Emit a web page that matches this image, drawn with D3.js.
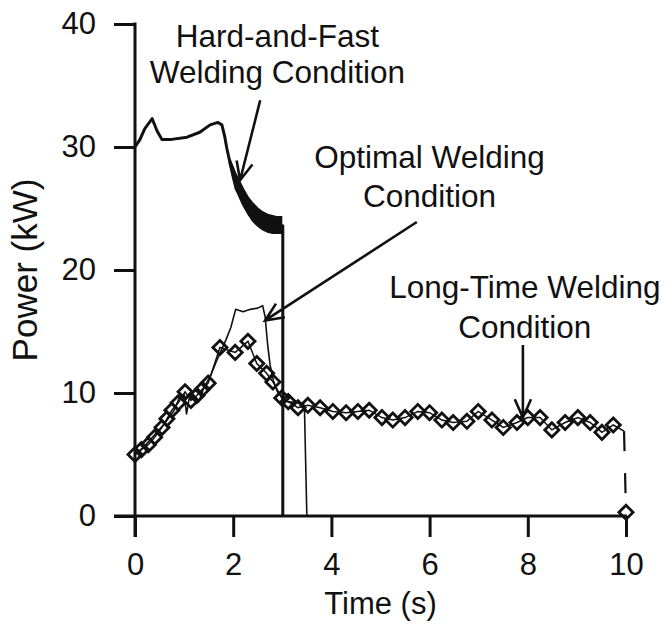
<!DOCTYPE html>
<html>
<head>
<meta charset="utf-8">
<script src="https://cdn.jsdelivr.net/npm/d3@7"></script>
<style>
  body { margin: 0; background: #fff; }
  text { font-family: Arial, "Liberation Sans", sans-serif; fill: #111; }
</style>
</head>
<body>
<script>
// Hard-and-Fast welding condition (thick line)
const hardT = [0, 0.1, 0.2, 0.35, 0.45, 0.55, 0.71, 1.06, 1.32, 1.53, 1.69, 1.77, 1.83, 1.87, 1.93, 2.0, 2.2, 2.5, 2.98, 3.01, 3.01];
const hardP = [30.0, 30.6, 31.5, 32.3, 31.3, 30.6, 30.6, 30.8, 31.2, 31.8, 32.0, 31.8, 30.8, 29.9, 28.8, 27.8, 25.9, 24.3, 23.6, 23.6, 0];
// oscillating band of the hard-and-fast curve (upper / lower envelope)
const bandT = [1.93, 2.0, 2.05, 2.1, 2.2, 2.3, 2.4, 2.5, 2.6, 2.7, 2.8, 2.9, 2.98];
const bandHi = [29.0, 28.3, 27.8, 27.4, 26.6, 25.9, 25.4, 25.0, 24.7, 24.5, 24.4, 24.3, 24.3];
const bandLo = [28.6, 27.4, 26.6, 26.2, 25.3, 24.6, 24.0, 23.6, 23.3, 23.1, 23.0, 23.0, 23.0];

// Optimal welding condition (thin line)
const optT = [0, 0.2, 0.4, 0.6, 0.8, 0.9, 1.0, 1.05, 1.1, 1.2, 1.3, 1.4, 1.55, 1.65, 1.75, 1.85, 1.95, 2.05, 2.2, 2.35, 2.5, 2.6, 2.65, 2.7, 2.75, 2.82, 2.9, 3.0, 3.1, 3.3, 3.45, 3.5];
const optP = [5.0, 5.7, 6.6, 7.5, 8.6, 9.6, 9.9, 8.3, 9.5, 9.8, 9.3, 10.4, 11.5, 12.5, 13.4, 14.3, 15.3, 16.8, 16.6, 16.8, 16.9, 17.1, 16.2, 14.0, 12.3, 11.0, 10.1, 9.6, 9.3, 9.2, 9.0, 0];

// Long-time welding condition (diamonds)
const longT = [0, 0.13, 0.27, 0.4, 0.55, 0.65, 0.75, 0.88, 1.02, 1.14, 1.26, 1.37, 1.49, 1.73, 2.04, 2.3, 2.48, 2.68, 2.81, 2.99, 3.12, 3.32, 3.52, 3.77, 4.03, 4.3, 4.54, 4.77, 5.03, 5.25, 5.5, 5.76, 6.0, 6.25, 6.48, 6.76, 6.99, 7.27, 7.5, 7.78, 8.0, 8.25, 8.49, 8.76, 9.02, 9.27, 9.51, 9.74];
const longP = [5.0, 5.4, 5.8, 6.4, 7.2, 7.9, 8.6, 9.2, 10.1, 9.4, 9.8, 10.3, 10.8, 13.7, 13.3, 14.2, 12.4, 11.6, 10.9, 9.6, 9.3, 8.8, 9.0, 8.8, 8.5, 8.4, 8.5, 8.6, 8.0, 7.8, 8.0, 8.5, 8.4, 7.8, 7.6, 7.7, 8.5, 7.8, 7.2, 7.6, 8.0, 8.0, 7.0, 7.6, 8.0, 7.6, 6.8, 7.4];
const longDashT = [9.96, 10.0];
const longDashP = [6.9, 0.3];

const xTicks = [0, 2, 4, 6, 8, 10];
const yTicks = [0, 10, 20, 30, 40];

// annotations: text lines and arrows (data coords)
const labels = [
  { lines: ["Hard-and-Fast", "Welding Condition"], t: 2.9, p: 38.1, gap: 36 },
  { lines: ["Optimal Welding", "Condition"], t: 6.0, p: 28.3, gap: 39 },
  { lines: ["Long-Time Welding", "Condition"], t: 7.94, p: 17.7, gap: 40 }
];
const arrows = [
  { from: [2.55, 33.8], to: [2.14, 27.3] },
  { from: [5.74, 23.9], to: [2.65, 15.9] },
  { from: [7.9, 13.9], to: [7.9, 8.0] }
];

const w = 667, h = 626;
const x0 = 135, x1 = 626, yTop = 24, yBot = 516;

const x = d3.scaleLinear().domain([0, 10]).range([x0, x1]);
const y = d3.scaleLinear().domain([0, 40]).range([yBot, yTop]);

const svg = d3.select("body").append("svg")
  .attr("width", w).attr("height", h);

const ink = "#111";

// axes
const xAxis = svg.append("g")
  .attr("transform", `translate(0,${yBot})`)
  .call(d3.axisBottom(x).tickValues(xTicks).tickSize(21).tickPadding(16).tickFormat(d3.format("d")));
xAxis.select(".domain").remove();
xAxis.selectAll("line").attr("stroke", ink).attr("stroke-width", 3);
xAxis.selectAll("text").attr("font-size", 31).attr("fill", ink);

const yAxis = svg.append("g")
  .attr("transform", `translate(${x0},0)`)
  .call(d3.axisLeft(y).tickValues(yTicks).tickSize(21).tickPadding(18).tickFormat(d3.format("d")));
yAxis.select(".domain").remove();
yAxis.selectAll("line").attr("stroke", ink).attr("stroke-width", 3);
yAxis.selectAll("text").attr("font-size", 31).attr("fill", ink);

svg.append("line")
  .attr("x1", x0).attr("x2", x0).attr("y1", yTop - 1.5).attr("y2", yBot + 21)
  .attr("stroke", ink).attr("stroke-width", 3);
svg.append("line")
  .attr("x1", x0 - 21).attr("x2", x(10) + 1).attr("y1", yBot).attr("y2", yBot)
  .attr("stroke", ink).attr("stroke-width", 3);

// axis titles
svg.append("text")
  .attr("x", (x0 + x1) / 2).attr("y", 614)
  .attr("text-anchor", "middle").attr("font-size", 31)
  .text("Time (s)");
svg.append("text")
  .attr("transform", `translate(37,${(yTop + yBot) / 2}) rotate(-90)`)
  .attr("text-anchor", "middle").attr("font-size", 35)
  .text("Power (kW)");

const line = d3.line().x(d => x(d[0])).y(d => y(d[1]));

// long-time series: thin connecting line + dashed tail + diamonds
const longData = d3.zip(longT, longP);
svg.append("path")
  .attr("d", line(longData.concat([[longDashT[0], longDashP[0]]])))
  .attr("fill", "none").attr("stroke", ink).attr("stroke-width", 1.5);
svg.append("path")
  .attr("d", line(d3.zip(longDashT, longDashP)))
  .attr("fill", "none").attr("stroke", ink).attr("stroke-width", 2.2)
  .attr("stroke-dasharray", "20,22");

const diamond = d3.symbol().type(d3.symbolSquare).size(100);
svg.selectAll(".dia")
  .data(longData.concat([[longDashT[1], longDashP[1]]]))
  .enter().append("path")
  .attr("class", "dia")
  .attr("d", diamond)
  .attr("transform", d => `translate(${x(d[0])},${y(d[1])}) rotate(45)`)
  .attr("fill", "none").attr("stroke", ink).attr("stroke-width", 2.8);

// optimal series
svg.append("path")
  .attr("d", line(d3.zip(optT, optP)))
  .attr("fill", "none").attr("stroke", ink).attr("stroke-width", 1.6)
  .attr("stroke-linejoin", "round");

// hard-and-fast series
const band = d3.area()
  .x(d => x(d[0])).y0(d => y(d[1])).y1(d => y(d[2]));
svg.append("path")
  .attr("d", band(d3.zip(bandT, bandLo, bandHi)))
  .attr("fill", ink).attr("stroke", ink).attr("stroke-width", 2);
svg.append("path")
  .attr("d", line(d3.zip(hardT, hardP)))
  .attr("fill", "none").attr("stroke", ink).attr("stroke-width", 3)
  .attr("stroke-linejoin", "round");

// annotations
labels.forEach(l => {
  const txt = svg.append("text")
    .attr("x", x(l.t)).attr("y", y(l.p))
    .attr("text-anchor", "middle").attr("font-size", 31.5);
  l.lines.forEach((s, i) => {
    txt.append("tspan").attr("x", x(l.t)).attr("dy", i === 0 ? 0 : l.gap).text(s);
  });
});

arrows.forEach(a => {
  const fx = x(a.from[0]), fy = y(a.from[1]);
  const tx = x(a.to[0]), ty = y(a.to[1]);
  const ang = Math.atan2(fy - ty, fx - tx);
  const len = 20, spread = 0.42;
  const b1 = [tx + len * Math.cos(ang + spread), ty + len * Math.sin(ang + spread)];
  const b2 = [tx + len * Math.cos(ang - spread), ty + len * Math.sin(ang - spread)];
  svg.append("path")
    .attr("d", `M${fx},${fy}L${tx},${ty}M${b1[0]},${b1[1]}L${tx},${ty}L${b2[0]},${b2[1]}`)
    .attr("fill", "none").attr("stroke", ink).attr("stroke-width", 2.6);
});
</script>
</body>
</html>
